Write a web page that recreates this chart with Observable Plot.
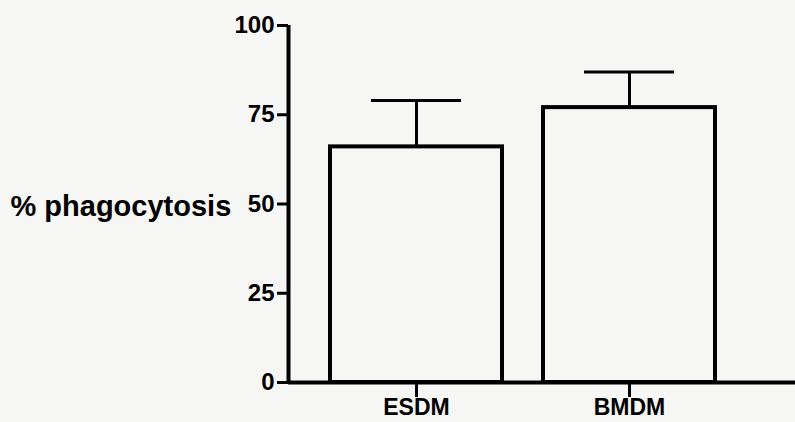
<!DOCTYPE html>
<html>
<head>
<meta charset="utf-8">
<script src="https://cdn.jsdelivr.net/npm/d3@7"></script>
<script src="https://cdn.jsdelivr.net/npm/@observablehq/plot@0.6"></script>
<style>
  html, body { margin: 0; padding: 0; background: #f6f6f4; }
  #chart svg { display: block; background: #f6f6f4; }
</style>
</head>
<body>
<div id="chart"></div>
<script>
const categories = ["ESDM", "BMDM"];
const means = [66, 77];
const errors = [13, 10];
const yTicks = [0, 25, 50, 75, 100];
const yLabel = "% phagocytosis";

const data = categories.map((c, i) => ({cat: c, mean: means[i], top: means[i] + errors[i]}));
const font = "'Liberation Sans', Arial, Helvetica, sans-serif";

const chart = Plot.plot({
  width: 795,
  height: 422,
  marginLeft: 288,
  marginRight: 0,
  marginTop: 25,
  marginBottom: 40,
  style: {fontFamily: font, background: "#f6f6f4", color: "black"},
  x: {domain: categories, range: [330, 715], paddingInner: 0.1925, paddingOuter: 0, label: null},
  y: {domain: [0, 100], label: null},
  marks: [
    Plot.barY(data, {x: "cat", y: "mean", fill: "#f6f6f4", stroke: "black", strokeWidth: 4}),
    Plot.ruleX(data, {x: "cat", y1: "mean", y2: "top", stroke: "black", strokeWidth: 3}),
    Plot.tickY(data, {x: "cat", y: "top", stroke: "black", strokeWidth: 3, insetLeft: 41, insetRight: 41}),
    Plot.ruleY([0], {stroke: "black", strokeWidth: 4}),
    Plot.ruleX(categories.slice(0, 1), {x: d => d, y1: 0, y2: 100, dx: 288 - 416, stroke: "black", strokeWidth: 4}),
    Plot.axisY({ticks: yTicks, tickSize: 11, tickPadding: 3, fontSize: 24, fontWeight: "bold", strokeWidth: 3, label: null}),
    Plot.axisX({tickSize: 15, tickPadding: 1, fontSize: 23, fontWeight: "bold", strokeWidth: 3, label: null}),
    Plot.text([yLabel], {text: d => d, frameAnchor: "left", textAnchor: "start", dx: 10 - 288, dy: 3, fontSize: 29, fontWeight: "bold", fill: "black"})
  ]
});
document.getElementById("chart").appendChild(chart);
</script>
</body>
</html>
